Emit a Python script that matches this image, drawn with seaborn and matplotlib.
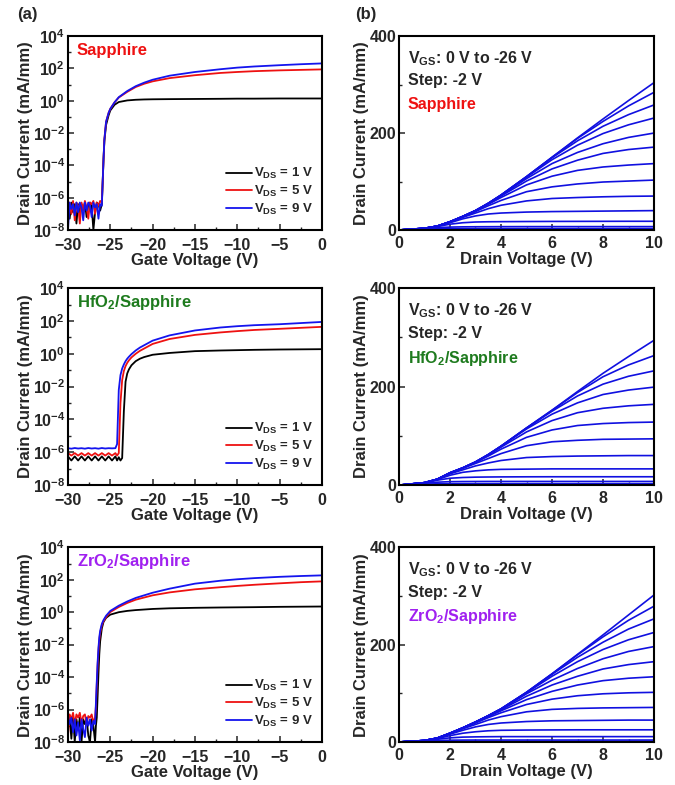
import numpy as np
import pandas as pd
import matplotlib
matplotlib.use("Agg")
import matplotlib.pyplot as plt
import seaborn as sns
from matplotlib.ticker import FixedLocator, FuncFormatter, NullFormatter

sns.set_style("ticks")
plt.rcParams['font.family'] = ['Liberation Sans', 'DejaVu Sans']
plt.rcParams['font.weight'] = 'bold'
plt.rcParams['axes.labelweight'] = 'bold'
plt.rcParams['mathtext.fontset'] = 'custom'
plt.rcParams['mathtext.rm'] = 'Liberation Sans:bold'
plt.rcParams['mathtext.bf'] = 'Liberation Sans:bold'
plt.rcParams['mathtext.it'] = 'Liberation Sans:bold'
plt.rcParams['mathtext.sf'] = 'Liberation Sans:bold'
plt.rcParams['mathtext.default'] = 'bf'

# ---------------- Transfer data (log10 of drain current, mA/mm) ----------------
vds_labels = ["1 V", "5 V", "9 V"]
vds_colors = ["#000000", "#ee1111", "#1414ee"]

# Sapphire
vg_sap = [-30.0, -29.8, -29.6, -29.4, -29.2, -29.0, -28.8, -28.6, -28.4, -28.2, -28.0,
          -27.8, -27.6, -27.4, -27.2, -27.0, -26.8, -26.6, -26.4, -26.2, -26.0,
          -25.9, -25.8, -25.7, -25.5, -25.2, -25.0, -24.5, -24.0, -23.0, -22.0, -21.0,
          -20.0, -18.0, -15.0, -12.0, -10.0, -8.0, -5.0, -2.5, 0.0]
logi_sap_1 = [-6.5, -7.3, -6.3, -6.9, -6.4, -7.6, -6.4, -7.0, -6.4, -6.8, -6.3,
              -7.2, -6.4, -6.3, -6.5, -8.0, -6.9, -6.3, -6.4, -6.8, -6.4,
              -5.0, -3.6, -2.5, -1.5, -0.9, -0.6, -0.25, -0.08, 0.02, 0.06, 0.08,
              0.09, 0.10, 0.11, 0.12, 0.13, 0.13, 0.14, 0.14, 0.14]
logi_sap_5 = [-6.6, -6.3, -7.0, -6.2, -7.4, -6.3, -6.5, -7.6, -6.3, -6.8, -6.2,
              -6.6, -7.3, -6.3, -6.4, -6.2, -7.0, -6.3, -6.5, -6.2, -6.3,
              -5.0, -3.6, -2.4, -1.3, -0.75, -0.5, -0.1, 0.2, 0.55, 0.85, 1.05,
              1.2, 1.4, 1.58, 1.72, 1.78, 1.83, 1.88, 1.91, 1.94]
logi_sap_9 = [-8.0, -6.3, -6.7, -6.4, -7.1, -6.3, -6.9, -6.3, -6.6, -7.4, -6.3,
              -6.8, -6.3, -6.5, -7.2, -6.3, -6.6, -6.4, -7.3, -6.4, -6.5,
              -5.0, -3.6, -2.4, -1.3, -0.75, -0.5, -0.1, 0.22, 0.6, 0.9, 1.12,
              1.3, 1.55, 1.78, 1.95, 2.05, 2.12, 2.2, 2.26, 2.31]

# HfO2/Sapphire
vg_hfo = [-30.0, -29.6, -29.2, -28.8, -28.4, -28.0, -27.6, -27.2, -26.8, -26.4, -26.0,
          -25.6, -25.2, -24.8, -24.4, -24.2, -24.0, -23.8, -23.6, -23.4, -23.2, -23.0,
          -22.8, -22.5, -22.0, -21.5, -21.0, -20.0, -18.0, -15.0, -12.0, -10.0, -8.0,
          -5.0, -2.5, 0.0]
logi_hfo_1 = [-6.25, -6.5, -6.25, -6.5, -6.25, -6.5, -6.25, -6.5, -6.25, -6.5, -6.25,
              -6.5, -6.25, -6.5, -6.25, -6.5, -6.3, -6.5, -6.35, -3.5, -1.7, -1.2,
              -0.95, -0.7, -0.45, -0.3, -0.2, -0.06, 0.05, 0.16, 0.2, 0.22, 0.24,
              0.26, 0.27, 0.28]
logi_hfo_5 = [-6.05, -6.2, -6.05, -6.2, -6.05, -6.2, -6.05, -6.2, -6.05, -6.2, -6.05,
              -6.2, -6.05, -6.2, -6.05, -6.2, -6.05, -3.0, -1.6, -1.05, -0.75, -0.55,
              -0.4, -0.22, 0.0, 0.18, 0.32, 0.6, 0.9, 1.15, 1.3, 1.38, 1.45,
              1.52, 1.58, 1.64]
logi_hfo_9 = [-5.75, -5.78, -5.74, -5.77, -5.75, -5.78, -5.74, -5.77, -5.75, -5.78, -5.74,
              -5.77, -5.75, -5.76, -5.75, -5.5, -2.2, -1.3, -0.9, -0.65, -0.45, -0.3,
              -0.18, -0.02, 0.2, 0.38, 0.52, 0.8, 1.12, 1.42, 1.6, 1.68, 1.74,
              1.8, 1.87, 1.94]

# ZrO2/Sapphire
vg_zro = [-30.0, -29.8, -29.6, -29.4, -29.2, -29.0, -28.8, -28.6, -28.4, -28.2, -28.0,
          -27.8, -27.6, -27.4, -27.2, -27.0, -26.8, -26.7, -26.6, -26.5, -26.4, -26.3,
          -26.2, -26.0, -25.8, -25.5, -25.0, -24.0, -23.0, -22.0, -20.0, -18.0, -15.0,
          -12.0, -10.0, -8.0, -5.0, -2.5, 0.0]
logi_zro_1 = [-7.0, -6.5, -7.8, -6.4, -8.0, -6.6, -7.2, -6.5, -8.0, -6.6, -6.9,
              -6.5, -7.6, -8.0, -6.6, -7.0, -8.0, -7.0, -6.5, -5.2, -3.8, -2.6,
              -1.8, -1.0, -0.6, -0.35, -0.15, 0.0, 0.08, 0.13, 0.2, 0.24, 0.27,
              0.29, 0.3, 0.31, 0.33, 0.34, 0.35]
logi_zro_5 = [-7.6, -6.3, -6.6, -6.2, -6.9, -6.3, -6.5, -6.2, -6.8, -6.4, -6.3,
              -6.9, -6.4, -6.5, -6.3, -6.8, -6.5, -5.8, -4.5, -3.3, -2.4, -1.7,
              -1.3, -0.8, -0.55, -0.3, 0.01, 0.32, 0.57, 0.77, 1.04, 1.22, 1.41,
              1.54, 1.62, 1.69, 1.78, 1.85, 1.9]
logi_zro_9 = [-6.4, -6.9, -6.5, -7.4, -6.6, -7.6, -6.8, -7.9, -6.6, -7.2, -7.7,
              -6.5, -7.0, -6.6, -7.3, -6.7, -6.9, -5.6, -4.3, -3.1, -2.2, -1.55,
              -1.15, -0.72, -0.48, -0.22, 0.08, 0.4, 0.66, 0.88, 1.2, 1.45, 1.76,
              1.94, 2.03, 2.1, 2.18, 2.23, 2.27]

# ---------------- Output data (mA/mm) ----------------
vgs_steps = [0, -2, -4, -6, -8, -10, -12, -14, -16, -18, -20, -22, -24, -26]
vd = [0, 1, 1.5, 2, 2.5, 3, 3.5, 4, 5, 6, 7, 8, 9, 10]

id_sap = [
    [0, 3.5, 8, 17, 28, 40, 55, 72, 110, 150, 190, 229, 267, 304],
    [0, 3.5, 8, 17, 28, 40, 55, 72, 110, 150, 189, 224, 256, 284],
    [0, 3.5, 8, 17, 28, 40, 55, 72, 110, 149, 184, 214, 238, 258],
    [0, 3.5, 8, 17, 28, 40, 55, 72, 109, 145, 175, 199, 217, 231],
    [0, 3.5, 8, 17, 28, 40, 55, 71, 106, 137, 160, 178, 191, 200],
    [0, 3.5, 8, 17, 28, 40, 54, 70, 101, 126, 144, 158, 166, 171],
    [0, 3.5, 8, 17, 28, 39, 53, 67, 93, 111, 123, 130, 134, 137],
    [0, 3.5, 8, 17, 27, 38, 50, 61, 79, 89, 95, 99, 101, 103],
    [0, 3.5, 8, 16, 26, 35, 44, 51, 60, 65, 67, 68.5, 69.5, 70],
    [0, 3.5, 8, 15, 23, 29, 33, 35, 37, 38, 38.5, 39, 39.5, 40],
    [0, 3, 7, 12, 15, 16.5, 17, 17.2, 17.5, 17.7, 17.8, 17.9, 18, 18],
    [0, 2.5, 5, 6, 6.5, 6.7, 6.8, 6.9, 7, 7, 7, 7, 7, 7],
    [0, 1.5, 2.5, 2.8, 2.9, 3, 3, 3, 3, 3, 3, 3, 3, 3],
    [0, 0.7, 0.9, 1, 1, 1, 1, 1, 1, 1, 1, 1, 1, 1],
]
id_hfo = [
    [0, 5, 12, 25, 35, 47, 62, 79, 116, 152, 190, 227, 261, 294],
    [0, 5, 12, 25, 35, 47, 62, 79, 116, 152, 188, 220, 244, 263],
    [0, 5, 12, 25, 35, 47, 62, 79, 116, 150, 181, 205, 221, 232],
    [0, 5, 12, 25, 35, 47, 62, 79, 114, 144, 167, 184, 193, 199],
    [0, 5, 12, 25, 35, 47, 61, 77, 108, 131, 147, 156, 161, 164],
    [0, 5, 12, 25, 35, 46, 59, 73, 97, 112, 121, 125, 127, 128],
    [0, 5, 12, 24, 34, 44, 54, 64, 80, 88, 91, 93, 93.5, 94],
    [0, 5, 12, 23, 31, 39, 45, 50, 56, 58, 59, 59.5, 60, 60],
    [0, 5, 11, 20, 26, 29, 31, 32, 32.5, 33, 33, 33, 33, 33],
    [0, 4.5, 10, 14, 15.5, 16.2, 16.5, 16.7, 16.9, 17, 17, 17, 17, 17],
    [0, 3.5, 6, 7, 7.3, 7.4, 7.5, 7.5, 7.5, 7.5, 7.5, 7.5, 7.5, 7.5],
    [0, 2, 2.7, 2.9, 3, 3, 3, 3, 3, 3, 3, 3, 3, 3],
    [0, 0.8, 1, 1, 1, 1, 1, 1, 1, 1, 1, 1, 1, 1],
    [0, 0.3, 0.3, 0.3, 0.3, 0.3, 0.3, 0.3, 0.3, 0.3, 0.3, 0.3, 0.3, 0.3],
]
id_zro = [
    [0, 3, 8, 18, 29, 41, 54, 68, 102, 140, 180, 220, 261, 302],
    [0, 3, 8, 18, 29, 41, 54, 68, 102, 140, 179, 216, 250, 279],
    [0, 3, 8, 18, 29, 41, 54, 68, 102, 139, 174, 205, 232, 253],
    [0, 3, 8, 18, 29, 41, 54, 68, 101, 135, 165, 190, 210, 225],
    [0, 3, 8, 18, 29, 41, 54, 67, 99, 127, 151, 171, 186, 196],
    [0, 3, 8, 18, 29, 41, 53, 66, 94, 117, 135, 150, 159, 165],
    [0, 3, 8, 18, 29, 40, 52, 64, 87, 104, 117, 126, 131, 134],
    [0, 3, 8, 18, 28, 39, 50, 60, 77, 88, 95, 99, 101, 102],
    [0, 3, 8, 17, 27, 36, 45, 52, 62, 67, 69, 70, 70.5, 71],
    [0, 3, 8, 16, 24, 31, 36, 39, 42, 43.5, 44, 44.5, 45, 45],
    [0, 3, 7, 13, 18, 21, 23, 24, 24.5, 24.8, 25, 25, 25, 25],
    [0, 2.5, 5.5, 8.5, 10, 10.5, 10.8, 11, 11, 11, 11, 11, 11, 11],
    [0, 1.5, 3, 3.7, 3.9, 4, 4, 4, 4, 4, 4, 4, 4, 4],
    [0, 0.8, 1.2, 1.4, 1.4, 1.4, 1.4, 1.4, 1.4, 1.4, 1.4, 1.4, 1.4, 1.4],
]

samples = ["Sapphire", "HfO$_2$/Sapphire", "ZrO$_2$/Sapphire"]
sample_colors = ["#ee1111", "#1e7b1e", "#a020f0"]

transfer_sets = [
    (vg_sap, [logi_sap_1, logi_sap_5, logi_sap_9]),
    (vg_hfo, [logi_hfo_1, logi_hfo_5, logi_hfo_9]),
    (vg_zro, [logi_zro_1, logi_zro_5, logi_zro_9]),
]
output_sets = [id_sap, id_hfo, id_zro]

# ---------------- Figure ----------------
fig = plt.figure(figsize=(6.75, 7.85), dpi=100)
rows = [(0.707, 0.247), (0.382, 0.251), (0.0548, 0.248)]
W, H = 675.0, 785.0
TICK_FS = 11.5
LABEL_FS = 12

def style_axes(ax, xpad=2):
    for s in ax.spines.values():
        s.set_linewidth(1.5)
        s.set_color("black")
    ax.tick_params(axis="both", which="major", direction="in", length=4, width=1.1,
                   labelsize=TICK_FS, pad=2, top=False, right=False)
    ax.tick_params(axis="x", which="major", pad=xpad)
    ax.tick_params(axis="both", which="minor", direction="in", length=2.2, width=1.0,
                   top=False, right=False)
    for lab in ax.get_xticklabels() + ax.get_yticklabels():
        lab.set_fontweight("bold")

def log_fmt(v, pos):
    e = int(round(np.log10(v)))
    return r"10$^{%d}$" % e

for r, (bottom, height) in enumerate(rows):
    # ---- transfer (left) ----
    axl = fig.add_axes([0.1007, bottom, 0.3763, height])
    vg, series = transfer_sets[r]
    frames = []
    for lab, lg in zip(vds_labels, series):
        frames.append(pd.DataFrame({"Vg": vg, "Id": np.power(10.0, lg), "Vds": lab}))
    df = pd.concat(frames, ignore_index=True)
    sns.lineplot(data=df, x="Vg", y="Id", hue="Vds", hue_order=vds_labels,
                 palette=vds_colors, estimator=None, sort=False, linewidth=1.3,
                 legend=False, ax=axl)
    axl.set_yscale("log")
    axl.set_xlim(-30, 0)
    axl.set_ylim(1e-8, 1e4)
    axl.yaxis.set_major_locator(FixedLocator([10.0 ** e for e in range(-8, 5, 2)]))
    axl.yaxis.set_minor_locator(FixedLocator([10.0 ** e for e in range(-7, 4, 2)]))
    axl.yaxis.set_major_formatter(FuncFormatter(log_fmt))
    axl.yaxis.set_minor_formatter(NullFormatter())
    axl.set_xticks([-30, -25, -20, -15, -10, -5, 0])
    axl.set_xticks(np.arange(-27.5, 0, 5), minor=True)
    axl.set_xlabel("Gate Voltage (V)", fontsize=LABEL_FS, fontweight="bold", labelpad=0)
    axl.set_ylabel("Drain Current (mA/mm)", fontsize=LABEL_FS, fontweight="bold", labelpad=0)
    style_axes(axl, xpad=6)
    handles = axl.get_lines()[:3]
    axl.legend(handles, [r"V$_{\mathrm{DS}}$ = " + s for s in vds_labels],
               loc="lower right", bbox_to_anchor=(1.0, 0.02), frameon=False,
               fontsize=9.5, handlelength=2.0, handletextpad=0.1, labelspacing=0.2,
               borderaxespad=0.3)
    axl.text(0.035, 0.925, samples[r], transform=axl.transAxes, color=sample_colors[r],
             fontsize=12, fontweight="bold", va="center", ha="left")

    # ---- output (right) ----
    axr = fig.add_axes([0.5911, bottom, 0.3778, height])
    frames = []
    for vgs, curve in zip(vgs_steps, output_sets[r]):
        frames.append(pd.DataFrame({"Vd": vd, "Id": curve, "Vgs": str(vgs)}))
    dfo = pd.concat(frames, ignore_index=True)
    sns.lineplot(data=dfo, x="Vd", y="Id", hue="Vgs",
                 palette=["#1010e0"] * len(vgs_steps), estimator=None, sort=False,
                 linewidth=1.2, legend=False, ax=axr)
    axr.set_xlim(0, 10)
    axr.set_ylim(0, 400)
    axr.set_xticks([0, 2, 4, 6, 8, 10])
    axr.set_xticks([1, 3, 5, 7, 9], minor=True)
    axr.set_yticks([0, 200, 400])
    axr.set_yticks([100, 300], minor=True)
    axr.set_xlabel("Drain Voltage (V)", fontsize=LABEL_FS, fontweight="bold", labelpad=1)
    axr.set_ylabel("Drain Current (mA/mm)", fontsize=LABEL_FS, fontweight="bold", labelpad=0)
    style_axes(axr, xpad=4)
    axr.text(0.035, 0.885, r"V$_{\mathrm{GS}}$: 0 V to -26 V", transform=axr.transAxes,
             fontsize=11.5, fontweight="bold", va="center", ha="left")
    axr.text(0.035, 0.77, "Step: -2 V", transform=axr.transAxes,
             fontsize=11.5, fontweight="bold", va="center", ha="left")
    axr.text(0.035, 0.645, samples[r], transform=axr.transAxes, color=sample_colors[r],
             fontsize=11.5, fontweight="bold", va="center", ha="left")

fig.text(17 / W, 1 - 14 / H, "(a)", fontsize=12, fontweight="bold", ha="left", va="center")
fig.text(355 / W, 1 - 14 / H, "(b)", fontsize=12, fontweight="bold", ha="left", va="center")

fig.savefig("out.png", dpi=100)
